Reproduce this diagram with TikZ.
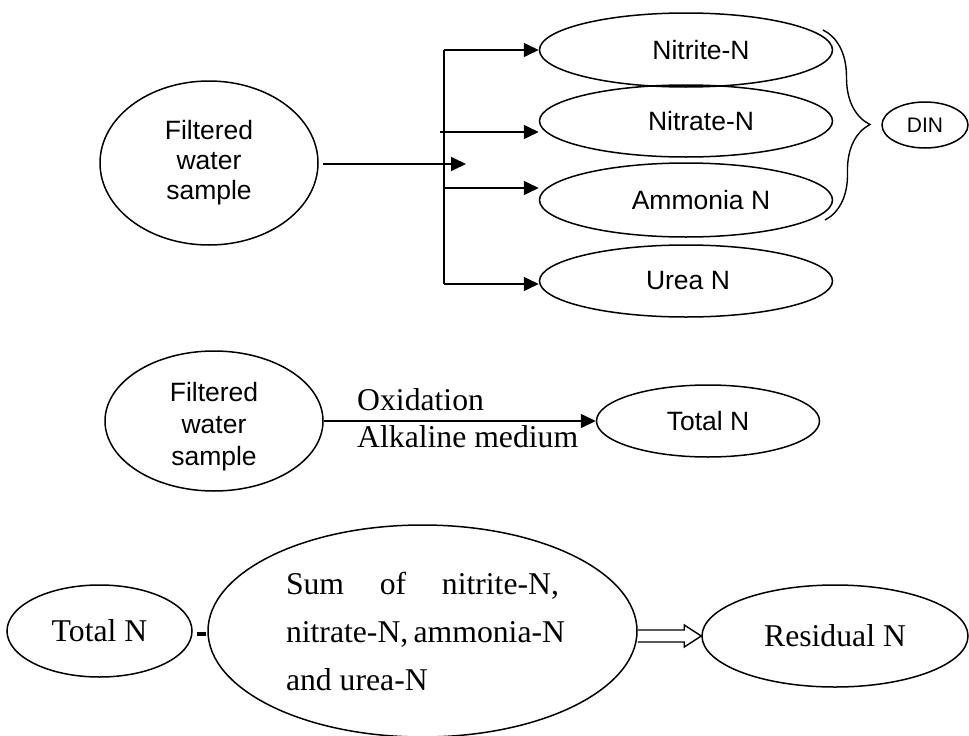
\documentclass[tikz,border=0pt]{standalone}
\usepackage{fontspec}
\setmainfont{Liberation Serif}
\setsansfont{Liberation Sans}
\usetikzlibrary{shapes.geometric,arrows.meta,decorations.pathreplacing,calc}
\begin{document}
\begin{tikzpicture}[x=1pt,y=-1pt,
  ell/.style={draw, ellipse, line width=1.5pt, inner sep=0pt, align=center},
  sanstxt/.style={font=\sffamily\fontsize{26.5}{30}\selectfont},
  sanssmall/.style={font=\sffamily\fontsize{21}{24}\selectfont},
  seriftxt/.style={font=\rmfamily\fontsize{31.7}{48}\selectfont},
  lbl/.style={seriftxt, inner sep=0pt, anchor=west},
  arr/.style={line width=1.6pt, -{Triangle[length=15pt,width=14pt]}},
  ln/.style={line width=1.6pt}]
\useasboundingbox (0,0) rectangle (969,736);

% ---------- top section ----------
\node[ell, sanstxt, minimum width=218pt, minimum height=164pt] (fw1) at (209,163) {Filtered\\water\\sample};
\node[ell, sanstxt, minimum width=293pt, minimum height=74pt] (nitrite) at (686,50) {\hspace*{30pt}Nitrite-N};
\node[ell, sanstxt, minimum width=293pt, minimum height=72pt] (nitrate) at (686,121) {\hspace*{30pt}Nitrate-N};
\node[ell, sanstxt, minimum width=293pt, minimum height=74pt] (ammonia) at (686,200) {\hspace*{30pt}Ammonia N};
\node[ell, sanstxt, minimum width=293pt, minimum height=72pt] (urea) at (686,281) {\hspace*{4pt}Urea N};
\node[ell, sanssmall, minimum width=86pt, minimum height=46pt] (din) at (925,125) {DIN};

\coordinate (vtop) at (444,50);
\coordinate (vbot) at (444,284);
\coordinate (b2) at (440,132);
\coordinate (b3) at (444,188);
\coordinate (mtip) at (466,164);

\draw[ln] (vtop) -- (vbot);
\draw[arr] (vtop) -- (nitrite.west);
\draw[arr] (b2) -- (nitrate.west |- b2);
\draw[arr] (b3) -- (ammonia.west |- b3);
\draw[arr] (vbot) -- (urea.west |- vbot);
\draw[arr] ($(fw1.east |- mtip)+(4,0)$) -- (mtip);

\coordinate (brtop) at (823,30);
\coordinate (brbot) at (825,220);
\draw[line width=1.4pt, decorate, decoration={brace, amplitude=46pt}] (brtop) -- (brbot);

% ---------- middle section ----------
\node[ell, minimum width=218pt, minimum height=140pt,
  label={[sanstxt, align=center, inner sep=0pt, yshift=-6pt, font=\sffamily\fontsize{26.5}{32}\selectfont]center:Filtered\\water\\sample}] (fw2) at (214,421) {};
\node[ell, sanstxt, minimum width=223pt, minimum height=72pt] (tn2) at (708,421) {Total N};
\draw[arr] (fw2.east) -- (tn2.west);
\node[lbl] (ox) at (357,400) {Oxidation};
\node[lbl] (alk) at (357,437) {Alkaline medium};

% ---------- bottom section ----------
\node[ell, seriftxt, minimum width=185pt, minimum height=92pt] (tn3) at (99.5,631) {Total N};
\node[fill, inner sep=0pt, minimum width=9pt, minimum height=4pt] (minus) at (201.5,634) {};
\node[ell, seriftxt, align=left, minimum width=429pt, minimum height=212pt] (sum) at (422.5,631)
  {\makebox[273pt][s]{Sum of nitrite-N,}\\\makebox[273pt][s]{nitrate-N, ammonia-N}\\and urea-N};
\node[ell, seriftxt, minimum width=266pt, minimum height=102pt] (res) at (835,636) {Residual N};

\coordinate (ha) at (sum.east |- res.west);
\draw[line width=1.4pt, line join=miter]
  ($(ha)+(0,-6)$) -- ($(res.west)+(-17,-6)$) -- ($(res.west)+(-17,-11)$) -- (res.west)
  -- ($(res.west)+(-17,11)$) -- ($(res.west)+(-17,6)$) -- ($(ha)+(0,6)$);
\end{tikzpicture}
\end{document}
